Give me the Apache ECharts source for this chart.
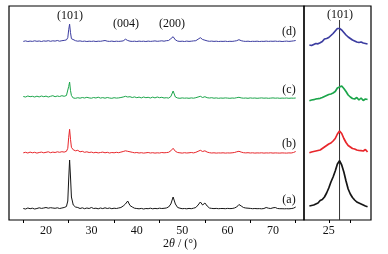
<!DOCTYPE html>
<html><head><meta charset="utf-8">
<script src="https://cdn.jsdelivr.net/npm/echarts@6/dist/echarts.min.js"></script>
<style>html,body{margin:0;padding:0;background:#fff}#c{width:388px;height:254px}</style>
</head><body><div id="c"></div>
<script>
// Left panel: 2θ sampling positions (degrees)
const xLeft = [15,15.5,16,16.5,17,17.5,18,18.5,19,19.5,20,20.5,21,21.5,22,22.5,23,23.5,24,24.5,
 24.8,25.0,25.2,25.4,25.6,26.0,
 26.5,27,27.5,28,28.5,29,29.5,30,30.5,31,31.5,32,32.5,33,33.5,34,34.5,35,35.5,36,36.5,37,37.5,38,38.5,39,39.5,40,
 40.5,41,41.5,42,42.5,43,43.5,44,44.5,45,45.5,46,46.5,47,47.5,48,48.5,49,49.5,50,50.5,51,51.5,52,52.5,53,53.5,54,
 54.5,55,55.5,56,56.5,57,57.5,58,58.5,59,59.5,60,60.5,61,61.5,62,62.5,63,63.5,64,64.5,65,65.5,66,66.5,67,67.5,68,
 68.5,69,69.5,70,70.5,71,71.5,72,72.5,73,73.5,74,74.5,75];

// Intensities (relative units) for each sample
const intA = [0.5,0,1,0.3,0.8,0,0.5,1.2,0.6,1,1.5,0.8,1.3,1,0.7,1.2,0.5,1,1.5,2.5,
 8,30,49,32,12,4,
 2,1.5,0.5,1.2,0.3,1,0.5,1.5,0.5,0.8,0.2,1,0.4,1.2,0.5,1,0.3,0.8,0.5,1,1.5,3,5,8,3.5,2,0.8,0.5,
 0.2,0.6,0,0.5,0.3,0.8,0.2,0.6,0.3,0.8,0.5,0.7,1,2,5,12,5,1.5,0.8,0.3,0.5,0.2,0.6,0.3,0.8,1.5,4,7,
 4,6,3,1,0.6,0.4,0.6,0.3,0.5,0.5,0.3,0.6,0.4,0.5,1,2,4.5,3,1.5,1,0.8,0.6,0.3,0.5,0.3,0.4,0.2,0.5,
 1.5,0.8,0.5,1.2,1.5,0.5,0.3,0.3,0.2,0.3,0.2,0.4,0.8,2];
const intB = [0.5,1,0.3,1.2,0.5,1,0.2,0.8,1.2,0.5,1,1.5,0.6,1.2,0.8,1.5,1,1.6,1.2,2,
 5,16,24,14,6,3.5,
 2.5,3,1.5,2,1,1.5,0.8,1.2,0.5,1,0.4,0.8,1.2,0.5,1,0.3,0.8,0.5,1,0.6,1.2,1.8,2.5,2,1.5,1,0.5,0.8,
 0.3,0.6,0.2,0.5,0.8,0.3,0.6,0.2,0.5,0.3,0.8,0.5,0.7,1,2.5,5,2,0.8,0.5,0.2,0.6,0.3,0.5,0.8,0.4,1,2,3,
 1.8,2.5,1.2,0.6,0.3,0.5,0.2,0.4,0.3,0.5,0.2,0.4,0.3,0.5,0.8,1.5,2,1.2,0.6,0.4,0.6,0.3,0.5,0.2,0.4,0.3,0.5,0.2,
 0.4,0.3,0.5,0.2,0.4,0.3,0.2,0.4,0.3,0.2,0.4,0.3,0.8,1.8];
const intC = [2,1.5,2.5,1.8,2.2,1.5,2.3,1.6,2.5,1.8,2.4,1.5,2.2,2.8,1.8,2.5,2,2.8,2.2,3,
 5,12,16.5,8,3,0.5,
 0.2,0.8,0.3,1,0.5,1.2,0.6,0.3,1,0.5,1.3,0.4,0.9,0.3,1,0.5,0.2,0.8,0.4,0.6,1,1.5,2.2,1.5,1.8,1,1.6,0.8,
 1.4,0.6,1.5,0.8,1.2,0.5,1.4,0.6,1.5,0.8,1.2,0.5,0.8,0.4,2,7.5,1.5,0.5,0.2,0.6,0.3,0.5,0.2,0.6,0.3,0.8,1.5,2.2,
 1,1.8,0.8,0.5,0.8,0.3,0.6,0.2,0.5,0.3,0.6,0.4,0.2,0.5,0.3,0.8,1.2,0.6,0.3,0.5,0.2,0.6,0.3,0.5,0.2,0.4,0.6,0.3,
 0.5,0.2,0.4,0.6,0.3,0.5,0.2,0.4,0.3,0.5,0.2,0.4,0.3,0.5];
const intD = [0.3,0.8,0.2,0.6,0.3,0.9,0.4,0.7,0.2,0.8,0.5,1,0.4,0.9,0.6,1.2,0.5,1,1.3,1.8,
 4,12,17.5,9,3,1.5,
 1,0.5,0.8,0.3,0.6,0.2,0.5,0.3,0.6,0.2,0.5,0.4,0.8,1.2,0.5,0.3,0.6,0.2,0.5,0.3,0.5,0.8,2.5,1.2,0.5,0.3,0.5,0.2,
 0.6,0.3,0.5,0.2,0.6,0.3,0.5,0.8,0.4,0.6,0.9,0.5,1,1.2,3,5,1.8,0.6,0.3,0.5,0.2,0.6,0.3,0.5,0.8,1,2.5,4,
 2.2,1.5,0.8,0.4,0.6,0.3,0.5,0.2,0.4,0.3,0.5,0.2,0.4,0.3,0.6,1,2,1,0.5,0.3,0.5,0.2,0.4,0.3,0.5,0.2,0.4,0.3,
 0.6,0.3,0.5,0.4,0.6,0.3,0.5,0.2,0.4,0.6,0.3,0.5,0.8,1.2];

// Vertical offsets of the stacked patterns (left panel)
const offsetsLeft = {a: 11, b: 66.7, c: 121.5, d: 178.3};

// Right panel: zoom on (101) reflection
const xRight = [24.1,24.2,24.3,24.4,24.5,24.6,24.7,24.8,24.9,25.0,25.1,25.2,25.3,25.4,25.5,25.6,25.7,25.8,25.9,26.0,26.1,26.2,26.3,26.4,26.5,26.6,26.7,26.8];
const zoomA = [14,14.5,15,16,17,19.5,20.5,23,27,32,38,43,49,56,59.3,55,48,39,31,26,22.5,20,18,17,16,15,14,13.3];
const zoomB = [67.3,68,68.5,69,69.5,70,71.5,73,74.5,76,77,79,81.5,86,89,86.5,81.5,77.5,74.5,73,71.5,71,70,69.5,69.3,69,70.5,68];
const zoomC = [119.3,120,120.3,121,121.3,121.7,122.5,123.5,124.5,125.5,126,127,128.5,132,133,134,131.5,128.5,125,123,121.5,121,122.5,120,122,119.5,121,120.5];
const zoomD = [175,174.5,175.5,176.5,176.2,177.3,178.5,181,181.5,182.5,184.5,186.5,189,191.5,191.5,190,187.5,185,183,181.5,180,179,178,177.5,178,177,176.5,176];
const refLine = 25.5;

// Axis ticks / labels
const leftTicks = [15,25,35,45,55,65,75];
const leftLabels = [20,30,40,50,60,70];
const rightTicks = [25,26];
const rightLabels = [25];

const colors = {a: '#151515', b: '#e8262b', c: '#1ba54a', d: '#3b3ca0'};

function pairs(xs, ys, off) { return xs.map((x, i) => [x, ys[i] + (off || 0)]); }

const serif = '"Liberation Serif", "DejaVu Serif", serif';
const chart = echarts.init(document.getElementById('c'), null, {renderer: 'canvas'});
const axisCommon = {
  type: 'value', axisLine: {show: false}, splitLine: {show: false},
  axisTick: {show: true, inside: false, length: 3, lineStyle: {color: '#000', width: 1}},
  axisLabel: {fontFamily: serif, fontSize: 12, color: '#111', margin: 5}
};
chart.setOption({
  animation: false,
  backgroundColor: '#fff',
  grid: [
    {left: 9, top: 6, width: 295, height: 214, show: true, borderColor: '#000', borderWidth: 1.2, backgroundColor: 'transparent'},
    {left: 304, top: 6, width: 67, height: 214, show: true, borderColor: '#000', borderWidth: 1.2, backgroundColor: 'transparent'}
  ],
  xAxis: [
    Object.assign({}, axisCommon, {gridIndex: 0, min: 11.85, max: 76.83,
      axisTick: Object.assign({}, axisCommon.axisTick, {customValues: leftTicks}),
      axisLabel: Object.assign({}, axisCommon.axisLabel, {customValues: leftLabels})}),
    Object.assign({}, axisCommon, {gridIndex: 1, min: 23.85, max: 26.96,
      axisTick: Object.assign({}, axisCommon.axisTick, {customValues: rightTicks}),
      axisLabel: Object.assign({}, axisCommon.axisLabel, {customValues: rightLabels})})
  ],
  yAxis: [
    {type: 'value', gridIndex: 0, min: 0, max: 214, show: false},
    {type: 'value', gridIndex: 1, min: 0, max: 214, show: false}
  ],
  series: [
    {type: 'line', xAxisIndex: 0, yAxisIndex: 0, data: pairs(xLeft, intA, offsetsLeft.a), showSymbol: false, lineStyle: {color: colors.a, width: 1}},
    {type: 'line', xAxisIndex: 0, yAxisIndex: 0, data: pairs(xLeft, intB, offsetsLeft.b), showSymbol: false, lineStyle: {color: colors.b, width: 1}},
    {type: 'line', xAxisIndex: 0, yAxisIndex: 0, data: pairs(xLeft, intC, offsetsLeft.c), showSymbol: false, lineStyle: {color: colors.c, width: 1}},
    {type: 'line', xAxisIndex: 0, yAxisIndex: 0, data: pairs(xLeft, intD, offsetsLeft.d), showSymbol: false, lineStyle: {color: colors.d, width: 1}},
    {type: 'line', xAxisIndex: 1, yAxisIndex: 1, data: [[refLine, 0], [refLine, 200]], showSymbol: false, lineStyle: {color: '#333', width: 1}},
    {type: 'line', xAxisIndex: 1, yAxisIndex: 1, data: pairs(xRight, zoomA), showSymbol: false, lineStyle: {color: colors.a, width: 1.7}},
    {type: 'line', xAxisIndex: 1, yAxisIndex: 1, data: pairs(xRight, zoomB), showSymbol: false, lineStyle: {color: colors.b, width: 1.7}},
    {type: 'line', xAxisIndex: 1, yAxisIndex: 1, data: pairs(xRight, zoomC), showSymbol: false, lineStyle: {color: colors.c, width: 1.7}},
    {type: 'line', xAxisIndex: 1, yAxisIndex: 1, data: pairs(xRight, zoomD), showSymbol: false, lineStyle: {color: colors.d, width: 1.7}}
  ],
  graphic: [
    {type: 'text', x: 70, y: 16, style: {text: '(101)', font: '12px ' + serif, fill: '#111', align: 'center', verticalAlign: 'middle'}},
    {type: 'text', x: 126, y: 24, style: {text: '(004)', font: '12px ' + serif, fill: '#111', align: 'center', verticalAlign: 'middle'}},
    {type: 'text', x: 172, y: 24, style: {text: '(200)', font: '12px ' + serif, fill: '#111', align: 'center', verticalAlign: 'middle'}},
    {type: 'text', x: 340, y: 15, style: {text: '(101)', font: '12px ' + serif, fill: '#111', align: 'center', verticalAlign: 'middle'}},
    {type: 'text', x: 289, y: 32, style: {text: '(d)', font: '12px ' + serif, fill: '#111', align: 'center', verticalAlign: 'middle'}},
    {type: 'text', x: 289, y: 90, style: {text: '(c)', font: '12px ' + serif, fill: '#111', align: 'center', verticalAlign: 'middle'}},
    {type: 'text', x: 289, y: 144, style: {text: '(b)', font: '12px ' + serif, fill: '#111', align: 'center', verticalAlign: 'middle'}},
    {type: 'text', x: 289, y: 200, style: {text: '(a)', font: '12px ' + serif, fill: '#111', align: 'center', verticalAlign: 'middle'}},
    {type: 'text', x: 180, y: 244, style: {
      text: '{n|2}{t|θ}{n| / (°)}', align: 'center', verticalAlign: 'middle',
      rich: {n: {fontFamily: serif, fontSize: 12, fill: '#111'}, t: {fontFamily: serif, fontSize: 12, fontStyle: 'italic', fill: '#111'}}
    }}
  ]
});
</script>
</body></html>
